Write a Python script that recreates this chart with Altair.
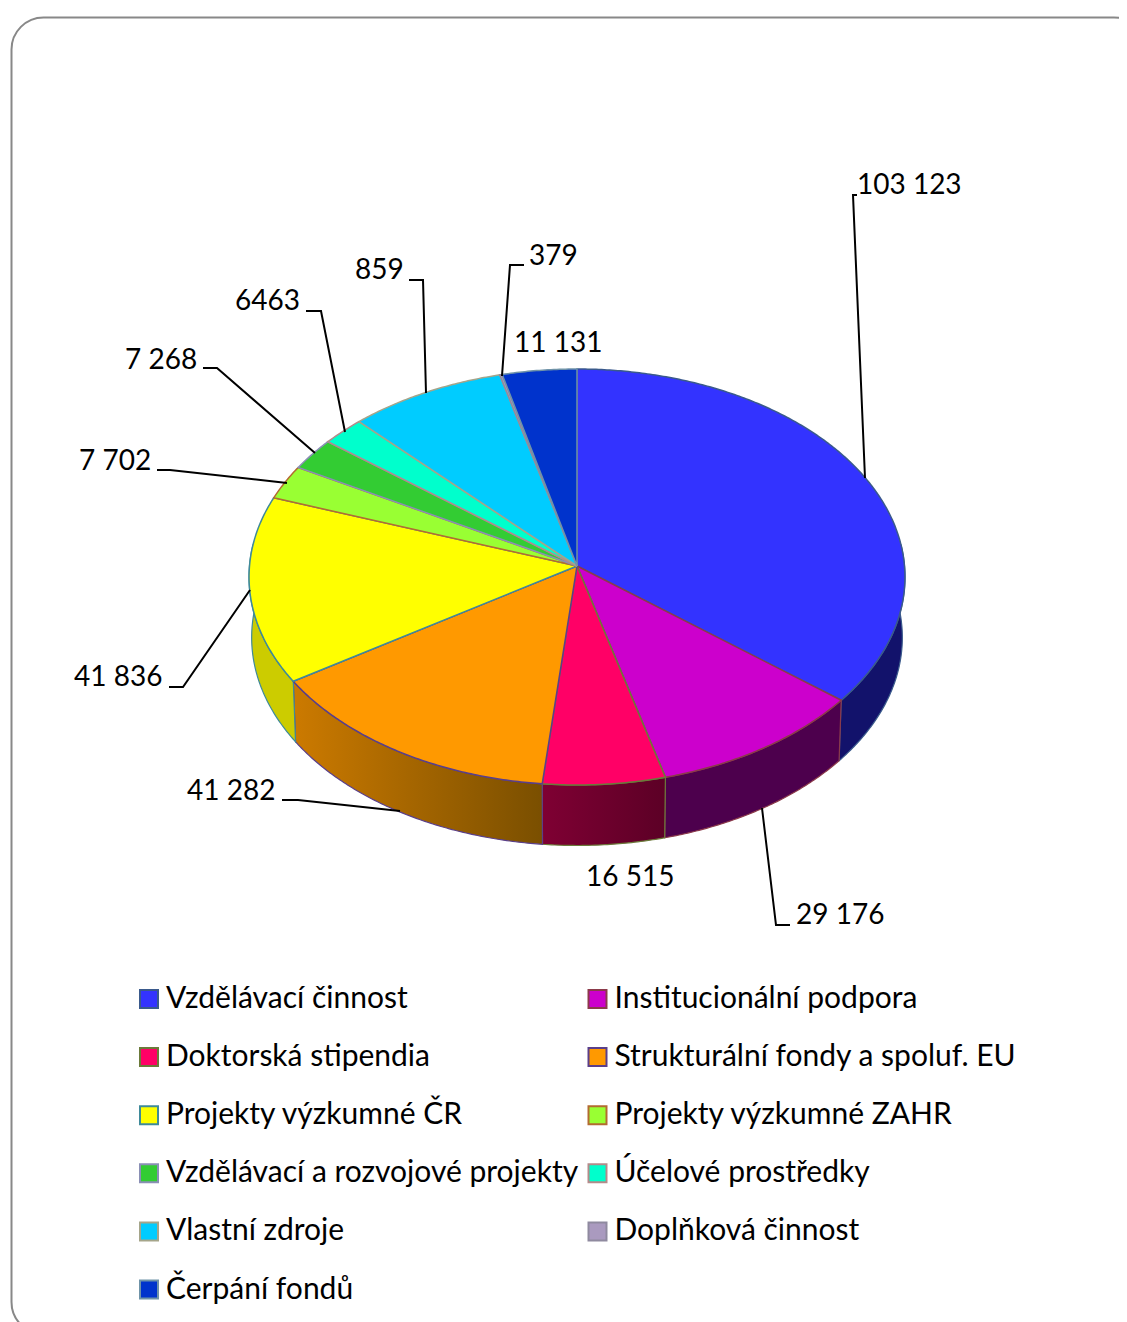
import math
import altair as alt
import pandas as pd

NAMES = ["Vzdělávací činnost", "Institucionální podpora", "Doktorská stipendia",
         "Strukturální fondy a spoluf. EU", "Projekty výzkumné ČR", "Projekty výzkumné ZAHR",
         "Vzdělávací a rozvojové projekty", "Účelové prostředky", "Vlastní zdroje",
         "Doplňková činnost", "Čerpání fondů"]
# Slice sizes; "Vlastní zdroje" is printed as "859" in the source but its slice reads about 23 500.
VALUES = [103123, 29176, 16515, 41282, 41836, 7702, 7268, 6463, 23500, 379, 11131]
FILLS = ["#3333FF", "#CC00CC", "#FF0066", "#FF9900", "#FFFF00", "#99FF33",
         "#33CC33", "#00FFCC", "#00CCFF", "#AA9ABF", "#0033CC"]
EDGES = ["#3A5A8C", "#8B3A4A", "#6B7A3A", "#5A3F8A", "#3F8A9A", "#B36B30",
         "#8A8FB5", "#B58A8A", "#A5A58A", "#8F8A9F", "#6F93A8"]
WALLS = {"Vzdělávací činnost": ("#12126B", "#12126B"),
         "Institucionální podpora": ("#4D004D", "#4D004D"),
         "Doktorská stipendia": ("#7F0033", "#5C0026"),
         "Strukturální fondy a spoluf. EU": ("#CC7A00", "#7A4F00"),
         "Projekty výzkumné ČR": ("#CCCC00", "#CCCC00")}

LABEL_TEXT = ["103 123", "379", "11 131", "859", "6463", "7 268", "7 702",
              "41 836", "41 282", "16 515", "29 176"]
LABEL_X = [857, 529, 514, 355, 235, 125, 79, 74, 187, 586, 796]
LABEL_Y = [194, 265, 352, 279, 310, 369, 470, 686, 800, 886, 924]
LEADERS = [[(857, 195), (853, 195), (865, 478)],
           [(524, 265), (510, 265), (502, 376)],
           [(409, 280), (423, 280), (426, 393)],
           [(306, 311), (321, 311), (345, 432)],
           [(203, 368), (217, 368), (315, 453)],
           [(157, 470), (170, 470), (287, 483)],
           [(169, 687), (183, 687), (250, 590)],
           [(282, 800), (298, 800), (400, 811)],
           [(790, 925), (776, 925), (762, 808)]]

CX, CY, RX, RY, PERSP, DEPTH, SHRINK = 577.0, 566.0, 327.5, 207.4, 0.0529, 60.5, 0.992
W, H = 1111, 1314


def rim(theta_deg, lower=False):
    t = math.radians(theta_deg)
    u, v = math.sin(t), -math.cos(t)
    d = 1 - PERSP * v
    x, y = CX + RX * u / d, CY + RY * v / d
    if lower:
        x, y = CX + (x - CX) * SHRINK, y + DEPTH
    return x, y


def span(a, b):
    n = max(2, int(abs(b - a)) * 2 + 1)
    return [a + (b - a) * k / (n - 1) for k in range(n)]


total = sum(VALUES)
edges_deg = [0.0]
for val in VALUES:
    edges_deg.append(edges_deg[-1] + 360 * val / total)

top_rows, wall_rows = [], {}
for i, name in enumerate(NAMES):
    a, b = edges_deg[i], edges_deg[i + 1]
    pts = [(CX, CY)] + [rim(t) for t in span(a, b)] + [(CX, CY)]
    top_rows += [{"name": name, "i": k, "x": p[0], "y": p[1]} for k, p in enumerate(pts)]
    if name in WALLS:
        ang = span(max(a, 84.0), min(b, 276.0))
        pts = [rim(t) for t in ang] + [rim(t, True) for t in reversed(ang)]
        pts.append(pts[0])
        wall_rows[name] = pd.DataFrame([{"i": k, "x": p[0], "y": p[1]} for k, p in enumerate(pts)])

X = alt.X("x:Q", axis=None, scale=alt.Scale(domain=[8, 8 + W], nice=False, zero=False))
Y = alt.Y("y:Q", axis=None, scale=alt.Scale(domain=[8 + H, 8], nice=False, zero=False))
X2 = alt.X2("x2:Q")
Y2 = alt.Y2("y2:Q")

frame = alt.Chart(pd.DataFrame({"x": [11.5], "x2": [1146], "y": [17.5], "y2": [1334]})).mark_rect(
    cornerRadius=32, fill="white", stroke="#888888", strokeWidth=2, clip=True
).encode(x=X, x2=X2, y=Y, y2=Y2)

layers = [frame]

for i, name in enumerate(NAMES):
    if name in wall_rows:
        c1, c2 = WALLS[name]
        grad = alt.Gradient(gradient="linear", x1=0, y1=0, x2=1, y2=0,
                            stops=[alt.GradientStop(color=c1, offset=0),
                                   alt.GradientStop(color=c2, offset=1)])
        layers.append(alt.Chart(wall_rows[name]).mark_line(fill=grad, stroke=EDGES[i], strokeWidth=1.2)
                      .encode(x=X, y=Y, order="i:Q"))

legend = alt.Legend(title=None, orient="none", legendX=126, legendY=976, columns=2, direction="horizontal",
                    symbolType="square", symbolSize=324, symbolStrokeWidth=2, symbolOpacity=1,
                    labelFont="Lato", labelFontSize=30, labelColor="black", labelLimit=500,
                    labelOffset=2, rowPadding=28.1, columnPadding=3.5)

top = alt.Chart(pd.DataFrame(top_rows)).mark_line(strokeWidth=1.5).encode(
    x=X, y=Y, order="i:Q", detail="name:N",
    fill=alt.Fill("name:N", scale=alt.Scale(domain=NAMES, range=FILLS), sort=None, legend=legend),
    stroke=alt.Stroke("name:N", scale=alt.Scale(domain=NAMES, range=EDGES), sort=None, legend=legend),
)
layers.append(top)

lead_rows = []
for j, line in enumerate(LEADERS):
    lead_rows += [{"id": j, "i": k, "x": p[0], "y": p[1]} for k, p in enumerate(line)]
layers.append(alt.Chart(pd.DataFrame(lead_rows)).mark_line(color="black", strokeWidth=2).encode(
    x=X, y=Y, order="i:Q", detail="id:N"))

layers.append(alt.Chart(pd.DataFrame({"t": LABEL_TEXT, "x": LABEL_X, "y": LABEL_Y})).mark_text(
    font="Lato", fontSize=28, align="left", baseline="alphabetic", color="black").encode(x=X, y=Y, text="t:N"))

chart = alt.layer(*layers).properties(
    width=W, height=H, padding=0, autosize=alt.AutoSizeParams(type="none"), background="white"
).configure_view(stroke=None)

chart.save("out.html", embed_options={"renderer": "svg", "actions": False})
